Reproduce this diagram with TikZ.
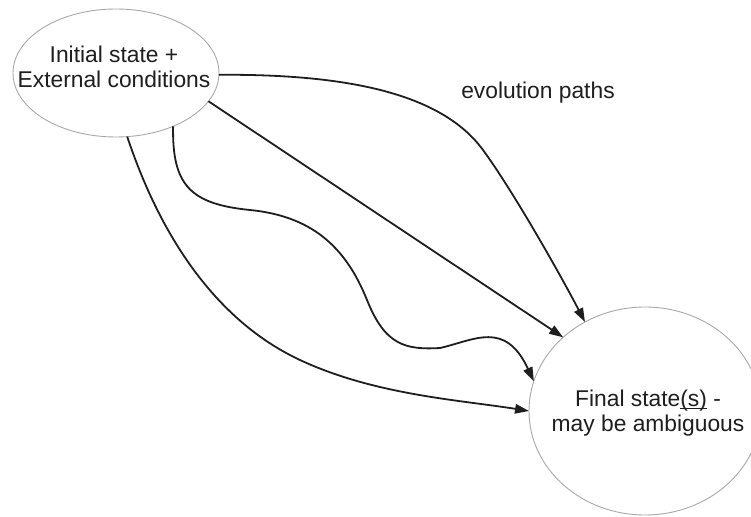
\documentclass[tikz,border=0pt]{standalone}
\usepackage{fontspec}
\setmainfont{Liberation Sans}
\usetikzlibrary{shapes.geometric,arrows.meta}
\definecolor{edgegray}{HTML}{A8A8A8}
\definecolor{ink}{HTML}{1E1E1E}
\tikzset{
  statebox/.style={ellipse, draw=edgegray, line width=0.9pt, inner sep=0pt, outer sep=0pt},
  lbl/.style={align=center, text=ink, font=\fontsize{22.8}{24.5}\selectfont, inner sep=0pt},
  path/.style={draw=ink, line width=1.8pt, -{Triangle[length=14pt,width=9.5pt]}},
}
\begin{document}
\begin{tikzpicture}[x=1pt,y=-1pt]
\useasboundingbox (0,0) rectangle (751,516);
\node[statebox, minimum width=206, minimum height=128] (init) at (116,73) {};
\node[lbl] (initlbl) at (114,67) {Initial state +\\External conditions};
\node[statebox, minimum width=232, minimum height=208] (final) at (645,411) {};
\node[lbl] (finallbl) at (648,413) {Final state\underline{\smash{(s)}} -\\may be ambiguous};
\node[lbl, anchor=base] (evo) at (538,99) {evolution paths};

\draw[path] (init.-1) .. controls (340,74) and (440,91) .. (483,150)
  .. controls (513,191) and (560,274) .. (final.124);
\draw[path] (init.-17.5) -- (final.138.7);
\draw[path] (init.-43.4) .. controls (172,185) and (190,204) .. (250,210)
  .. controls (310,216) and (345,245) .. (367,300)
  .. controls (385,345) and (405,350) .. (440,348)
  .. controls (475,340) and (505,320) .. (final.165);
\draw[path] (init.-80.2) .. controls (165,250) and (225,325) .. (300,360)
  .. controls (375,395) and (460,400) .. (final.180);
\end{tikzpicture}
\end{document}
